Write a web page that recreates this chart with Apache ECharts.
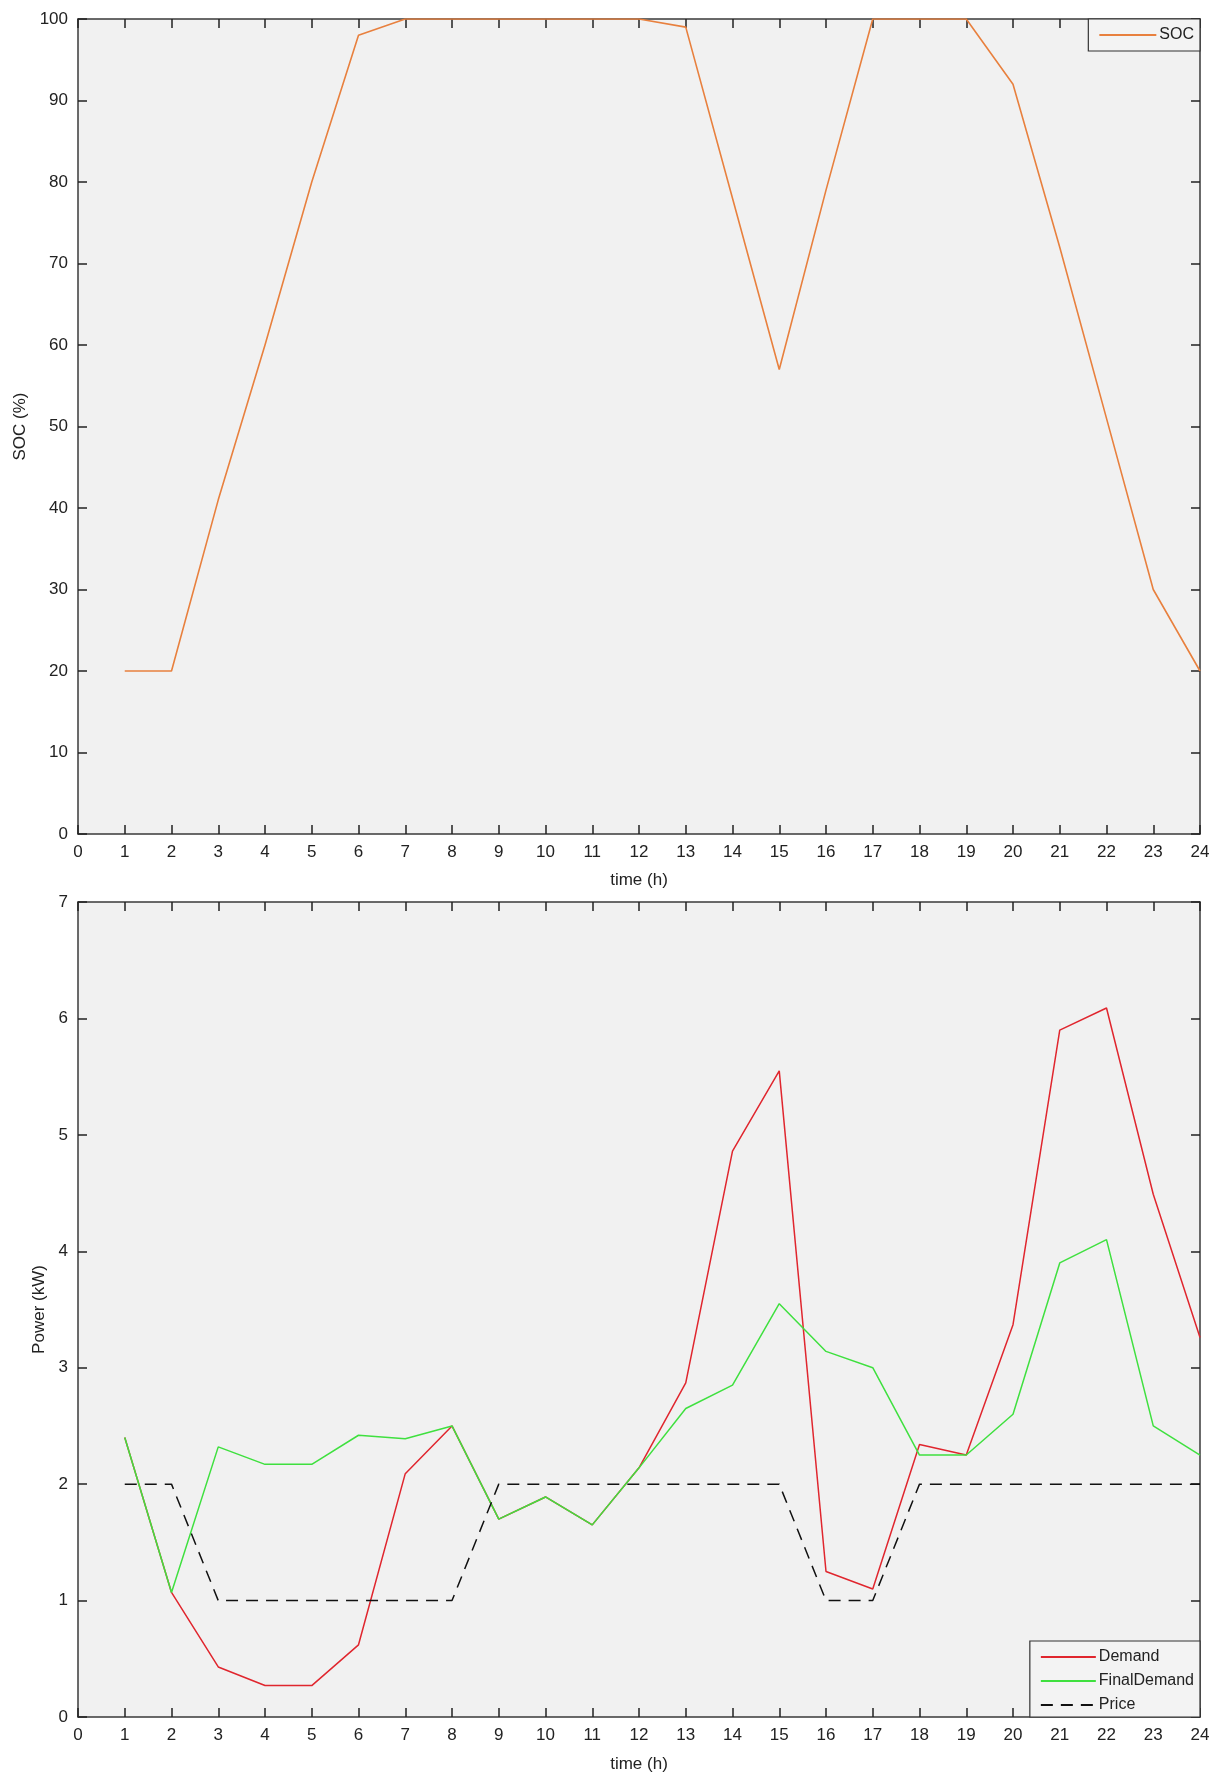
<!DOCTYPE html>
<html>
<head>
<meta charset="utf-8">
<script src="https://cdn.jsdelivr.net/npm/echarts@6/dist/echarts.min.js"></script>
<style>
html,body{margin:0;padding:0;background:#fff;}
#chart{width:1221px;height:1783px;}
</style>
</head>
<body>
<div id="chart"></div>
<script>
const hours = [1,2,3,4,5,6,7,8,9,10,11,12,13,14,15,16,17,18,19,20,21,22,23,24];
const soc = [20,20,41,60,80,98,100,100,100,100,100,100,99,78,57,79,100,100,100,92,72,51,30,20];
const demand = [2.4,1.07,0.43,0.27,0.27,0.62,2.09,2.5,1.7,1.89,1.65,2.14,2.87,4.86,5.55,1.25,1.1,2.34,2.25,3.37,5.9,6.09,4.49,3.26];
const finalDemand = [2.4,1.07,2.32,2.17,2.17,2.42,2.39,2.5,1.7,1.89,1.65,2.14,2.65,2.85,3.55,3.14,3.0,2.25,2.25,2.6,3.9,4.1,2.5,2.25];
const price = [2,2,1,1,1,1,1,1,2,2,2,2,2,2,2,1,1,2,2,2,2,2,2,2];

const FONT = 'Liberation Sans, Arial, sans-serif';
const AX = '#3a3a3a';
const pairs = arr => hours.map((h, i) => [h, arr[i]]);

function xAx(grid, bottom, gap) {
  return {
    type: 'value', gridIndex: grid, min: 0, max: 24, interval: 1,
    position: bottom ? 'bottom' : 'top',
    name: bottom ? 'time (h)' : '', nameLocation: 'middle', nameGap: gap || 0,
    nameTextStyle: {fontFamily: FONT, fontSize: 17, color: '#222'},
    axisLine: {show: true, onZero: false, lineStyle: {color: AX, width: 1.5}},
    axisTick: {show: true, inside: true, length: 9, lineStyle: {color: '#222', width: 1.5}},
    axisLabel: {show: bottom, fontFamily: FONT, fontSize: 17, color: '#222', margin: 10},
    splitLine: {show: false}
  };
}
function yAx(grid, left, max, interval, name, gap) {
  return {
    type: 'value', gridIndex: grid, min: 0, max: max, interval: interval,
    position: left ? 'left' : 'right',
    name: left ? name : '', nameLocation: 'middle', nameGap: gap,
    nameTextStyle: {fontFamily: FONT, fontSize: 17, color: '#222'},
    axisLine: {show: true, onZero: false, lineStyle: {color: AX, width: 1.5}},
    axisTick: {show: true, inside: true, length: 9, lineStyle: {color: '#222', width: 1.5}},
    axisLabel: {show: left, fontFamily: FONT, fontSize: 17, color: '#222', margin: 10},
    splitLine: {show: false}
  };
}

const chart = echarts.init(document.getElementById('chart'), null, {renderer: 'canvas'});
chart.setOption({
  backgroundColor: '#ffffff',
  animation: false,
  grid: [
    {left: 78, top: 19, width: 1122, height: 815, show: true, backgroundColor: '#f1f1f1', borderWidth: 0},
    {left: 78, top: 902, width: 1122, height: 815, show: true, backgroundColor: '#f1f1f1', borderWidth: 0}
  ],
  xAxis: [xAx(0, true, 38), xAx(0, false), xAx(1, true, 39), xAx(1, false)],
  yAxis: [
    yAx(0, true, 100, 10, 'SOC (%)', 44),
    yAx(0, false, 100, 10, '', 0),
    yAx(1, true, 7, 1, 'Power (kW)', 20),
    yAx(1, false, 7, 1, '', 0)
  ],
  legend: [
    {
      data: ['SOC'], right: 21, top: 19, orient: 'vertical',
      backgroundColor: '#f3f3f3', borderColor: '#333', borderWidth: 1.2, borderRadius: 0,
      padding: [8, 6, 8, 10], itemWidth: 57, itemHeight: 14, itemGap: 8,
      itemStyle: {opacity: 0},
      textStyle: {fontFamily: FONT, fontSize: 16, color: '#222', padding: [0, 0, 0, -2]}
    },
    {
      data: ['Demand', 'FinalDemand', 'Price'], right: 21, bottom: 66, orient: 'vertical',
      backgroundColor: '#f3f3f3', borderColor: '#333', borderWidth: 1.2, borderRadius: 0,
      padding: [8, 6, 4, 10], itemWidth: 55, itemHeight: 14, itemGap: 8,
      itemStyle: {opacity: 0},
      textStyle: {fontFamily: FONT, fontSize: 16, color: '#222', padding: [0, 0, 0, -2]}
    }
  ],
  series: [
    {name: 'SOC', type: 'line', xAxisIndex: 0, yAxisIndex: 0, data: pairs(soc),
     symbol: 'none', lineStyle: {color: '#e8803e', width: 1.6}, itemStyle: {color: '#e8803e'}},
    {name: 'Demand', type: 'line', xAxisIndex: 2, yAxisIndex: 2, data: pairs(demand),
     symbol: 'none', lineStyle: {color: '#e0262e', width: 1.5}, itemStyle: {color: '#e0262e'}},
    {name: 'FinalDemand', type: 'line', xAxisIndex: 2, yAxisIndex: 2, data: pairs(finalDemand),
     symbol: 'none', lineStyle: {color: '#3fe03f', width: 1.5}, itemStyle: {color: '#3fe03f'}},
    {name: 'Price', type: 'line', xAxisIndex: 2, yAxisIndex: 2, data: pairs(price),
     symbol: 'none', lineStyle: {color: '#111', width: 1.5, type: [12, 8]}, itemStyle: {color: '#111'}}
  ]
});
</script>
</body>
</html>
